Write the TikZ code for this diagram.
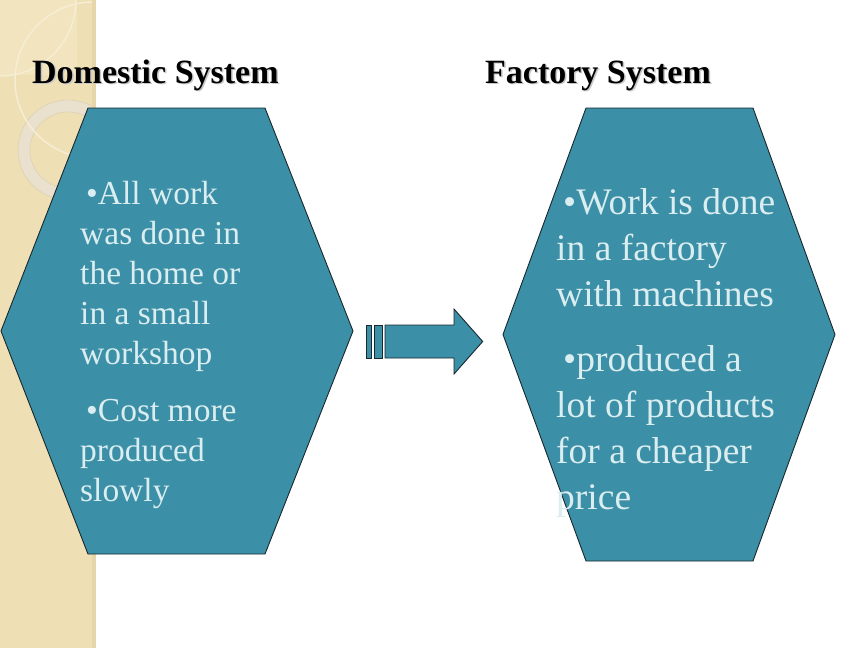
\documentclass[tikz,border=0pt]{standalone}
\usepackage{fontspec}
\setmainfont{Liberation Serif}
\definecolor{hexteal}{RGB}{59,143,166}
\definecolor{hexline}{RGB}{24,40,46}
\definecolor{paletext}{RGB}{218,237,240}
\definecolor{stripe}{RGB}{239,223,181}
\definecolor{stripelight}{RGB}{241,228,190}
\definecolor{stripeedge}{RGB}{230,214,170}
\definecolor{ringfill}{RGB}{233,225,205}
\definecolor{ringline}{RGB}{221,209,180}
\definecolor{arcline}{RGB}{246,237,213}

\begin{document}
\begin{tikzpicture}[x=1pt,y=-1pt,
    hexagon/.style={fill=hexteal,draw=hexline,line width=0.9pt,line join=miter},
    block/.style={fill=hexteal,draw=hexline,line width=0.9pt},
    title/.style={font=\fontsize{34}{40}\selectfont\bfseries,anchor=base west,inner sep=0pt},
    small text/.style={text=paletext,font=\fontsize{33.5}{40}\selectfont,align=left,anchor=base west,inner sep=0pt},
    large text/.style={text=paletext,font=\fontsize{37.5}{46}\selectfont,align=left,anchor=base west,inner sep=0pt}]
    \useasboundingbox[fill=white] (0,0) rectangle (864,648);

    % left band of the slide
    \fill[stripe] (0,0) rectangle (96,648);
    \fill[stripeedge] (92,0) rectangle (96,648);
    \begin{scope}
        \clip (0,0) rectangle (92,648);
        \fill[stripelight] (0,0) rectangle (77,75);
        \fill[ringfill,even odd rule] (68,150) circle (50pt) (68,150) circle (38pt);
        \draw[ringline,line width=0.6pt] (68,150) circle (50pt) (68,150) circle (38pt);
        \draw[arcline,line width=1.5pt] (0,0) circle (76pt);
        \draw[arcline,line width=1.5pt] (93,80) circle (78pt);
    \end{scope}

    % titles
    \node[title,text=black!22] (domestic shadow) at (33.5,84.5) {Domestic System};
    \node[title] (domestic title) at (32,83) {Domestic System};
    \node[title,text=black!22] (factory shadow) at (486.5,84.5) {Factory System};
    \node[title] (factory title) at (485,83) {Factory System};

    % the two hexagons
    \draw[hexagon] (88,108) -- (265,108) -- (353,331) -- (265,554) -- (88,554) -- (1,331) -- cycle;
    \draw[hexagon] (586,108) -- (753,108) -- (835,334.5) -- (753,561) -- (586,561) -- (503,334.5) -- cycle;

    % arrow with stripes
    \draw[block] (366.7,325) rectangle (371.7,358);
    \draw[block] (374,325) rectangle (382,358);
    \draw[block] (385,325) -- (454,325) -- (454,309) -- (482.7,341.5) -- (454,374) -- (454,358) -- (385,358) -- cycle;

    % texts (anchored at the baseline of their last line)
    \node[small text] (domestic a) at (80,364.5) {\hspace*{6pt}•All work\\was done in\\the home or\\in a small\\workshop};
    \node[small text] (domestic b) at (80,501) {\hspace*{6pt}•Cost more\\produced\\slowly};
    \node[large text] (factory a) at (556,306.5) {\hspace*{7pt}•Work is done\\in a factory\\with machines};
    \node[large text] (factory b) at (556,509) {\hspace*{7pt}•produced a\\lot of products\\for a cheaper\\price};
\end{tikzpicture}
\end{document}
